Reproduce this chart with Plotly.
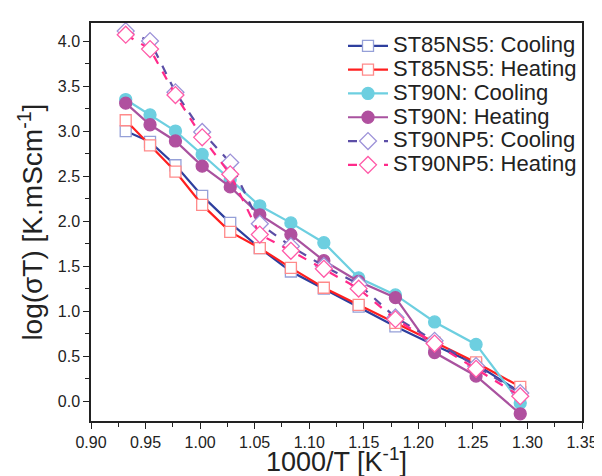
import plotly.graph_objects as go

inv_T = [0.9318, 0.9541, 0.9774, 1.0019, 1.0276, 1.0547, 1.0832, 1.1134, 1.1453, 1.1790, 1.2149, 1.2529, 1.2934]

st85_cool = [3.00, 2.88, 2.62, 2.28, 1.98, 1.70, 1.44, 1.25, 1.05, 0.83, 0.62, 0.41, 0.10]
st85_heat = [3.12, 2.84, 2.55, 2.18, 1.88, 1.70, 1.48, 1.26, 1.07, 0.87, 0.65, 0.43, 0.16]
st90n_cool = [3.35, 3.18, 3.00, 2.74, 2.46, 2.17, 1.98, 1.76, 1.37, 1.18, 0.88, 0.63, -0.02]
st90n_heat = [3.31, 3.07, 2.89, 2.61, 2.38, 2.07, 1.85, 1.56, 1.33, 1.15, 0.54, 0.28, -0.14]
st90np_cool = [4.11, 4.00, 3.43, 2.99, 2.65, 1.97, 1.72, 1.50, 1.30, 0.93, 0.67, 0.39, 0.09]
st90np_heat = [4.07, 3.91, 3.40, 2.93, 2.52, 1.85, 1.67, 1.47, 1.25, 0.91, 0.64, 0.36, 0.055]

names = ["ST85NS5: Cooling", "ST85NS5: Heating", "ST90N: Cooling", "ST90N: Heating",
         "ST90NP5: Cooling", "ST90NP5: Heating"]
x_title = "1000/T [K<sup>-1</sup>]"
y_title = "log(σT) [K.mScm<sup>-1</sup>]"

series = [st85_cool, st85_heat, st90n_cool, st90n_heat, st90np_cool, st90np_heat]
line_colors = ["#2e3f9e", "#ff1f1f", "#6dcfe0", "#a9529f", "#5c4ea6", "#ff2a8a"]
marker_line = ["#95a0d8", "#ff8a8a", "#6dcfe0", "#b0509f", "#9d92d8", "#ff5aa8"]
marker_fill = ["white", "white", "#6dcfe0", "#b0509f", "white", "white"]
symbols = ["square", "square", "circle", "circle", "diamond", "diamond"]
sizes = [11, 11, 12, 12, 13, 13]
dashes = ["solid", "solid", "solid", "solid", "dash", "dash"]

FONT = "Liberation Sans, Arial"
fig = go.Figure()
for i in range(6):
    fig.add_trace(go.Scatter(
        x=inv_T, y=series[i],
        name='<span style="font-size:22px">' + names[i] + '</span>',
        mode="lines+markers",
        line=dict(color=line_colors[i], width=2.2, dash=dashes[i]),
        marker=dict(symbol=symbols[i], size=sizes[i], color=marker_fill[i],
                    line=dict(color=marker_line[i], width=1.3)),
    ))

axis_common = dict(
    showline=True, linecolor="#222", linewidth=1.5, mirror=True,
    ticks="outside", ticklen=6, tickwidth=1.3, tickcolor="#222",
    showgrid=False, zeroline=False,
    tickfont=dict(family=FONT, size=16, color="#222"),
    minor=dict(ticks="outside", ticklen=4, tickwidth=1.2, tickcolor="#222"),
)

fig.update_xaxes(range=[0.90, 1.35], dtick=0.05, tickformat=".2f",
                 minor_dtick=0.025, **axis_common)
fig.update_yaxes(range=[-0.22, 4.2], dtick=0.5, tickformat=".1f",
                 minor_dtick=0.25, **axis_common)

fig.add_annotation(text=x_title, xref="paper", yref="paper", x=0.5, y=-0.099,
                   xanchor="center", yanchor="middle", showarrow=False,
                   font=dict(family=FONT, size=27, color="#222"))
fig.add_annotation(text=y_title, xref="paper", yref="paper", x=-0.123, y=0.5,
                   xanchor="center", yanchor="middle", showarrow=False, textangle=-90,
                   font=dict(family=FONT, size=28, color="#222"))

fig.update_layout(
    width=602, height=476,
    margin=dict(l=83, r=22, t=15, b=63),
    plot_bgcolor="white", paper_bgcolor="white",
    showlegend=True,
    legend=dict(x=1.0, xanchor="right", y=0.985, yanchor="top",
                bgcolor="rgba(0,0,0,0)", borderwidth=0,
                font=dict(family=FONT, size=16, color="#222"),
                tracegroupgap=0, itemwidth=40),
)

fig.write_html("out.html")
